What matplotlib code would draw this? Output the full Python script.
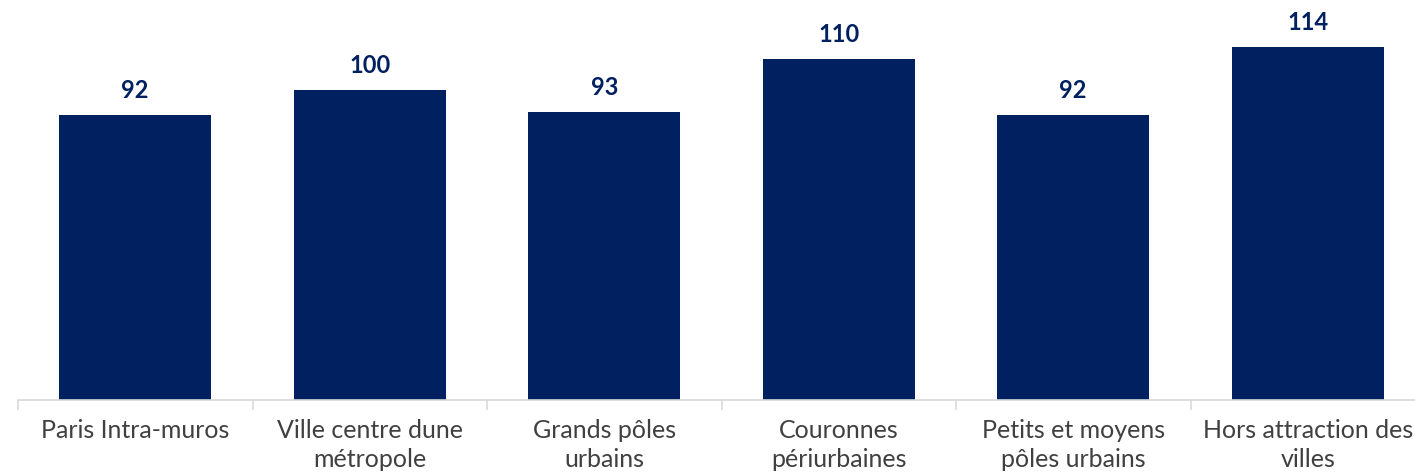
import matplotlib.pyplot as plt

categories = ['Paris Intra-muros', 'Ville centre dune\nmétropole', 'Grands pôles\nurbains',
              'Couronnes\npériurbaines', 'Petits et moyens\npôles urbains', 'Hors attraction des\nvilles']
values = [92, 100, 93, 110, 92, 114]

navy = '#002060'
plt.rcParams['font.family'] = ['Lato', 'DejaVu Sans']

fig = plt.figure(figsize=(14.15, 4.73), dpi=100)
# axes runs a bit past the right edge, like the original
ax = fig.add_axes([18 / 1415, 73 / 473, 1407 / 1415, 400 / 473])

x = range(len(categories))
bars = ax.bar(x, values, width=0.65, color=navy)

for b, v in zip(bars, values):
    ax.annotate(str(v), (b.get_x() + b.get_width() / 2, v), xytext=(0, 9),
                textcoords='offset points', ha='center', va='bottom',
                fontsize=17, fontweight='bold', color=navy)

ax.set_xlim(-0.5, len(categories) - 0.5)
ax.set_ylim(0, 129)
ax.set_yticks([])
ax.set_xticks([i - 0.5 for i in range(len(categories) + 1)], minor=False)
ax.set_xticklabels([])
ax.set_xticks(list(x), minor=True)
ax.set_xticklabels(categories, minor=True, fontsize=18, color='#404040',
                   linespacing=1.3)
ax.tick_params(axis='x', which='major', length=7, color='#d9d9d9', width=1.2)
ax.tick_params(axis='x', which='minor', length=0, pad=14)

for s in ['top', 'right', 'left']:
    ax.spines[s].set_visible(False)
ax.spines['bottom'].set_color('#d9d9d9')
ax.spines['bottom'].set_linewidth(1.2)

fig.savefig('out.png', dpi=100)
